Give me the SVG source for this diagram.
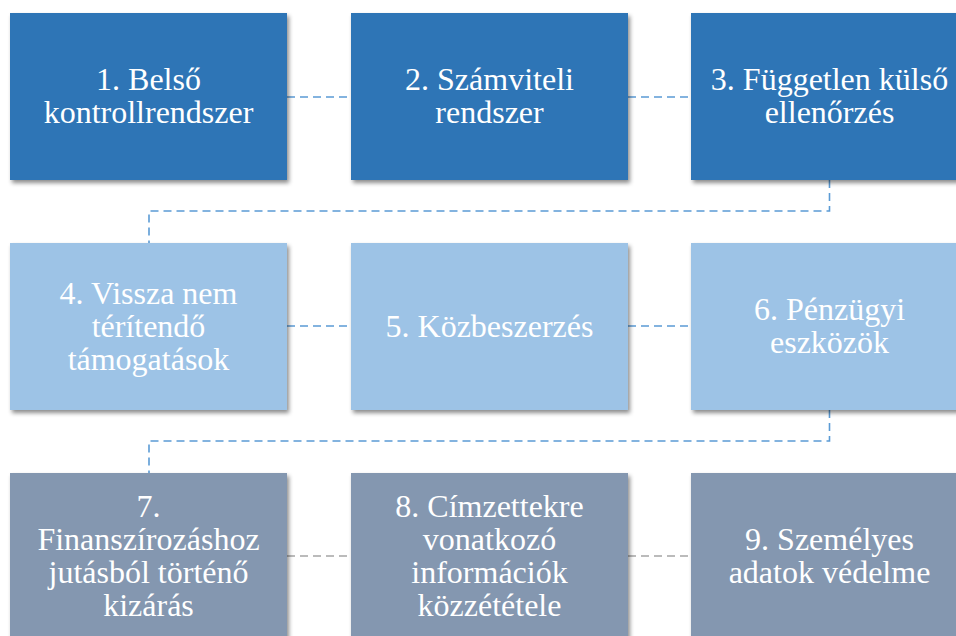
<svg xmlns="http://www.w3.org/2000/svg" width="956" height="636" viewBox="0 0 956 636">
<defs>
<filter id="sh" x="-10%" y="-10%" width="130%" height="130%">
<feDropShadow dx="2" dy="3" stdDeviation="2" flood-color="#000" flood-opacity="0.45"/>
</filter>
<style>
.box{filter:url(#sh);}
.r1{fill:#2E75B6;}
.r2{fill:#9DC3E6;}
.r3{fill:#8497B0;}
.t{font-family:"Liberation Serif","Times New Roman",serif;font-size:32px;fill:#FFFFFF;text-anchor:middle;}
.cb{fill:none;stroke:#5B9BD5;stroke-width:1.6;stroke-dasharray:8 5;}
.cg{fill:none;stroke:#A5A5A5;stroke-width:1.6;stroke-dasharray:8 5;}
</style>
</defs>
<rect width="956" height="636" fill="#FFFFFF"/>
<g id="connectors">
<line class="cb" x1="287" y1="97" x2="351" y2="97"/>
<line class="cb" x1="628" y1="97" x2="691" y2="97"/>
<path class="cb" d="M829.5 180 V211 H149 V243"/>
<line class="cb" x1="287" y1="326" x2="351" y2="326"/>
<line class="cb" x1="628" y1="326" x2="691" y2="326"/>
<path class="cb" d="M829.5 410 V441 H149 V473"/>
<line class="cg" x1="287" y1="556" x2="351" y2="556"/>
<line class="cg" x1="628" y1="556" x2="691" y2="556"/>
</g>
<g id="n1"><rect class="box r1" x="10" y="13" width="277" height="167"/>
<text class="t" x="148.5" y="90">1. Belső</text><text class="t" x="148.5" y="123">kontrollrendszer</text></g>
<g id="n2"><rect class="box r1" x="351" y="13" width="277" height="167"/>
<text class="t" x="489.5" y="90">2. Számviteli</text><text class="t" x="489.5" y="123">rendszer</text></g>
<g id="n3"><rect class="box r1" x="691" y="13" width="277" height="167"/>
<text class="t" x="829.5" y="90">3. Független külső</text><text class="t" x="829.5" y="123">ellenőrzés</text></g>
<g id="n4"><rect class="box r2" x="10" y="243" width="277" height="167"/>
<text class="t" x="148.5" y="303.5">4. Vissza nem</text><text class="t" x="148.5" y="336.5">térítendő</text><text class="t" x="148.5" y="369.5">támogatások</text></g>
<g id="n5"><rect class="box r2" x="351" y="243" width="277" height="167"/>
<text class="t" x="489.5" y="336.5">5. Közbeszerzés</text></g>
<g id="n6"><rect class="box r2" x="691" y="243" width="277" height="167"/>
<text class="t" x="829.5" y="320">6. Pénzügyi</text><text class="t" x="829.5" y="353">eszközök</text></g>
<g id="n7"><rect class="box r3" x="10" y="473" width="277" height="167"/>
<text class="t" x="148.5" y="517">7.</text><text class="t" x="148.5" y="550">Finanszírozáshoz</text><text class="t" x="148.5" y="583">jutásból történő</text><text class="t" x="148.5" y="616">kizárás</text></g>
<g id="n8"><rect class="box r3" x="351" y="473" width="277" height="167"/>
<text class="t" x="489.5" y="517">8. Címzettekre</text><text class="t" x="489.5" y="550">vonatkozó</text><text class="t" x="489.5" y="583">információk</text><text class="t" x="489.5" y="616">közzététele</text></g>
<g id="n9"><rect class="box r3" x="691" y="473" width="277" height="167"/>
<text class="t" x="829.5" y="550">9. Személyes</text><text class="t" x="829.5" y="583">adatok védelme</text></g>
</svg>
